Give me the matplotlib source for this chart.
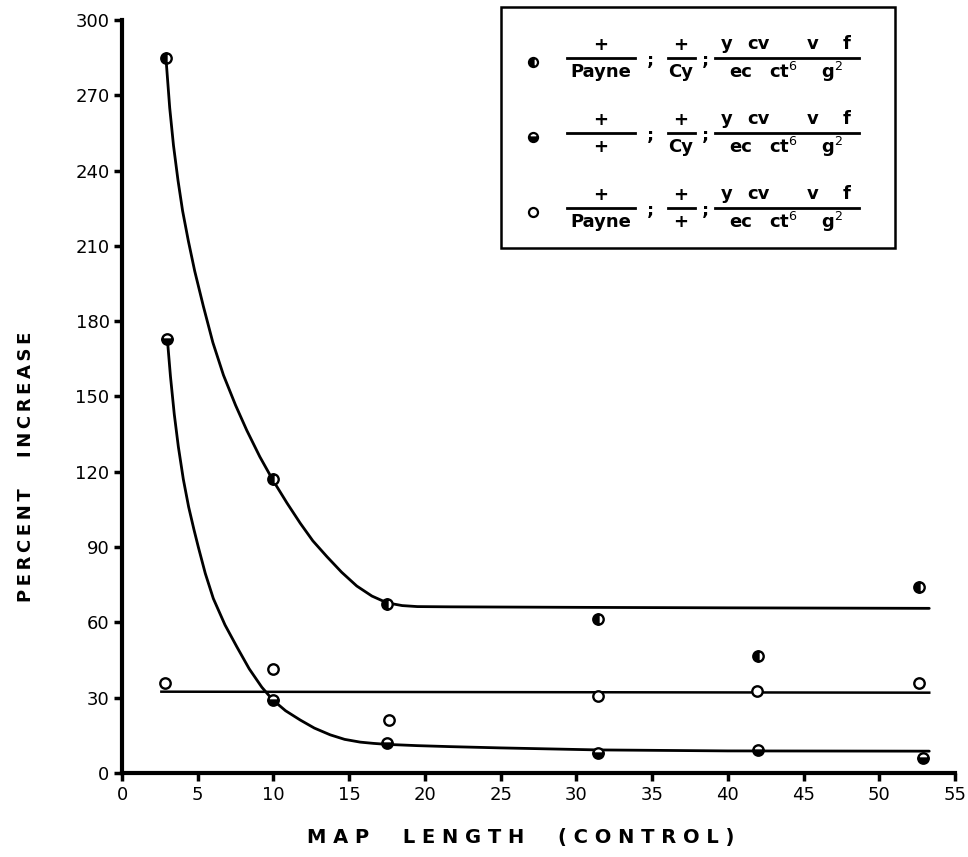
import matplotlib
matplotlib.use("Agg")
import matplotlib.pyplot as plt
from matplotlib.lines import Line2D
from matplotlib.patches import Rectangle

# ---------------- data ----------------
xA = [2.9, 10.0, 17.5, 31.4, 42.0, 52.6]
yA = [285, 117, 67.5, 61.5, 46.5, 74]
xB = [3.0, 9.95, 17.5, 31.4, 42.0, 52.9]
yB = [173, 29, 12, 8, 9, 6]
xC = [2.85, 10.0, 17.6, 31.4, 41.9, 52.6]
yC = [36, 41.5, 21, 30.5, 32.5, 36]

# fitted curves
curveA_x = [2.9, 2.95, 3.15, 3.4, 3.7, 4.0, 4.38, 4.8, 5.37, 6.0, 6.7, 7.5, 8.24, 9.1, 9.96,
            10.9, 11.77, 12.6, 13.53, 14.5, 15.5, 16.5, 17.5, 18.5, 19.5, 21.7, 30, 40, 53.3]
curveA_y = [285, 281, 265, 250, 236, 224, 212, 200, 186, 171.5, 158.5, 146.5, 136.5, 126, 116.7,
            107.5, 99.5, 92.5, 86.2, 80, 74.5, 70.5, 67.8, 66.7, 66.3, 66.2, 66, 65.8, 65.6]
curveB_x = [3.02, 3.2, 3.45, 3.72, 4.05, 4.4, 4.75, 5.04, 5.5, 6.03, 6.8, 7.58, 8.4, 9.23, 9.94,
            10.8, 11.77, 12.7, 13.75, 14.7, 15.73, 16.6, 17.5, 19.5, 21.7, 25, 31.4, 40, 53.3]
curveB_y = [171, 158, 143, 130, 117, 106, 97, 90, 79.5, 69.5, 59, 50.3, 41.5, 34.2, 29.2,
            24.8, 21.1, 17.9, 15.2, 13.4, 12.3, 11.8, 11.4, 10.9, 10.5, 10.0, 9.2, 8.8, 8.7]
lineC_x = [2.6, 53.3]
lineC_y = [32.4, 32.0]

xticks = list(range(0, 56, 5))
yticks = list(range(0, 301, 30))

# ---------------- figure ----------------
W, H = 968, 857
fig = plt.figure(figsize=(W / 100, H / 100), dpi=100)
L, R, T, B = 122, 955, 20, 773
ax = fig.add_axes([L / W, (H - B) / H, (R - L) / W, (B - T) / H])

ax.plot(curveA_x, curveA_y, color="black", lw=2.0, solid_capstyle="round", solid_joinstyle="round")
ax.plot(curveB_x, curveB_y, color="black", lw=2.0, solid_capstyle="round", solid_joinstyle="round")
ax.plot(lineC_x, lineC_y, color="black", lw=1.8)

mk = dict(linestyle="none", marker="o", markersize=7.5, markeredgewidth=1.7,
          markeredgecolor="black", markerfacecolor="black", markerfacecoloralt="white")
ax.plot(xA, yA, fillstyle="left", **mk)
ax.plot(xB, yB, fillstyle="bottom", **mk)
ax.plot(xC, yC, linestyle="none", marker="o", markersize=7.5, markeredgewidth=1.7,
        markeredgecolor="black", markerfacecolor="white")

ax.set_xlim(0, 55)
ax.set_ylim(0, 300)
ax.set_xticks(xticks)
ax.set_yticks(yticks)
for s in ["top", "right"]:
    ax.spines[s].set_visible(False)
for s in ["left", "bottom"]:
    ax.spines[s].set_linewidth(3)
ax.tick_params(direction="out", length=6, width=2.5, labelsize=13, pad=3)


def fx(px):
    return px / W


def fy(py):
    return (H - py) / H


def spaced(word):
    return "\u2009".join(word)


# axis titles placed as in the reference
fig.text(fx(521), fy(837), "M A P     L E N G T H     ( C O N T R O L )",
         fontsize=14, fontweight="bold", ha="center", va="center")
fig.text(fx(26), fy(467), spaced("PERCENT") + "     " + spaced("INCREASE"),
         fontsize=13, fontweight="bold", ha="center", va="center", rotation=90)

# ---------------- legend (drawn manually) ----------------
fig.add_artist(Rectangle((fx(501), fy(248)), fx(895) - fx(501), fy(7) - fy(248),
                         transform=fig.transFigure, fill=False, lw=1.8, edgecolor="black"))

tk = dict(fontsize=13, fontweight="bold", ha="center", va="center",
          transform=fig.transFigure)
rows = [
    ("left", "Payne", "Cy"),
    ("bottom", "+", "Cy"),
    ("none", "Payne", "+"),
]
for i, (fs, d1, d2) in enumerate(rows):
    bar = 58 + i * 75
    if fs == "none":
        fig.add_artist(Line2D([fx(533)], [fy(bar + 4)], transform=fig.transFigure,
                              marker="o", markersize=6.5, markeredgewidth=1.6,
                              markeredgecolor="black", markerfacecolor="white"))
    else:
        fig.add_artist(Line2D([fx(533)], [fy(bar + 4)], transform=fig.transFigure,
                              marker="o", markersize=6.5, markeredgewidth=1.6,
                              markeredgecolor="black", markerfacecolor="black",
                              markerfacecoloralt="white", fillstyle=fs))
    # fraction 1
    fig.add_artist(Line2D([fx(567), fx(635)], [fy(bar), fy(bar)], lw=2,
                          color="black", transform=fig.transFigure))
    fig.text(fx(601), fy(bar - 13), "+", **tk)
    fig.text(fx(601), fy(bar + 14), d1, **tk)
    fig.text(fx(650), fy(bar + 3), ";", **tk)
    # fraction 2
    fig.add_artist(Line2D([fx(668), fx(695)], [fy(bar), fy(bar)], lw=2,
                          color="black", transform=fig.transFigure))
    fig.text(fx(681), fy(bar - 13), "+", **tk)
    fig.text(fx(681), fy(bar + 14), d2, **tk)
    fig.text(fx(705), fy(bar + 3), ";", **tk)
    # fraction 3
    fig.add_artist(Line2D([fx(715), fx(859)], [fy(bar), fy(bar)], lw=2,
                          color="black", transform=fig.transFigure))
    for xx, s in [(727, "y"), (758, "cv"), (813, "v"), (847, "f")]:
        fig.text(fx(xx), fy(bar - 14), s, **tk)
    for xx, s in [(741, "ec"), (783, "ct$^{6}$"), (832, "g$^{2}$")]:
        fig.text(fx(xx), fy(bar + 14), s, **tk)

fig.savefig("out.png", dpi=100)
